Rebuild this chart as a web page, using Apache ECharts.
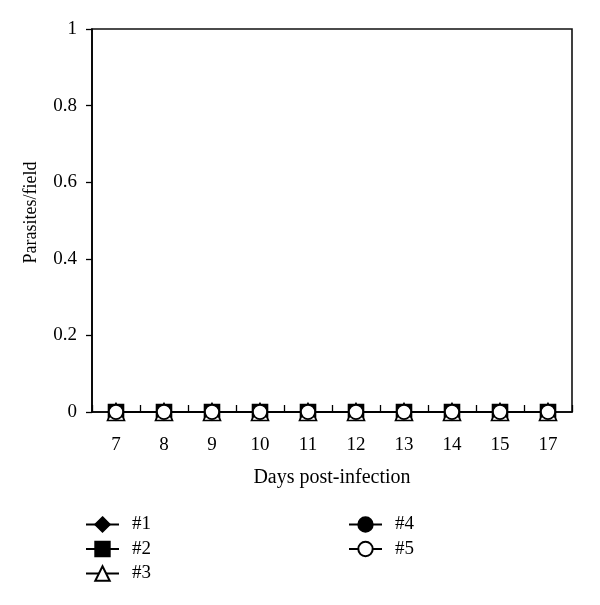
<!DOCTYPE html>
<html>
<head>
<meta charset="utf-8">
<script src="https://cdn.jsdelivr.net/npm/echarts@6/dist/echarts.min.js"></script>
<style>html,body{margin:0;padding:0;background:#fff}#c{width:600px;height:605px}</style>
</head>
<body>
<div id="c"></div>
<script>
var days = ['7', '8', '9', '10', '11', '12', '13', '14', '15', '17'];
var s1 = [0, 0, 0, 0, 0, 0, 0, 0, 0, 0];
var s2 = [0, 0, 0, 0, 0, 0, 0, 0, 0, 0];
var s3 = [0, 0, 0, 0, 0, 0, 0, 0, 0, 0];
var s4 = [0, 0, 0, 0, 0, 0, 0, 0, 0, 0];
var s5 = [0, 0, 0, 0, 0, 0, 0, 0, 0, 0];
var names = ['#1', '#2', '#3', '#4', '#5'];
var yTicks = [0, 0.2, 0.4, 0.6, 0.8, 1];

var FONT = 'Liberation Serif';
var chart = echarts.init(document.getElementById('c'), null, {renderer: 'canvas'});

function mk(name, data, symbol, fill, size) {
  return {
    name: name, type: 'line', data: data, symbol: symbol, symbolSize: size,
    clip: false,
    lineStyle: {color: '#000', width: 1.6},
    itemStyle: {color: fill, borderColor: '#000', borderWidth: 1.6},
    emphasis: {disabled: true}, animation: false
  };
}

var legendText = {fontFamily: FONT, fontSize: 19, color: '#000', lineHeight: 19, padding: [0, 0, 0, 8]};

var option = {
  animation: false,
  grid: {left: 92, right: 28, top: 29, bottom: 193, show: true, borderColor: '#111', borderWidth: 1.6, backgroundColor: 'transparent'},
  xAxis: {
    type: 'category', data: days, boundaryGap: true,
    name: 'Days post-infection', nameLocation: 'middle', nameGap: 56,
    nameTextStyle: {fontFamily: FONT, fontSize: 20, color: '#000'},
    axisLine: {lineStyle: {color: '#000', width: 1.6}},
    axisTick: {show: true, inside: true, length: 7, lineStyle: {color: '#000', width: 1.3}},
    axisLabel: {fontFamily: FONT, fontSize: 19, color: '#000', margin: 24},
    splitLine: {show: false}
  },
  yAxis: {
    type: 'value', min: yTicks[0], max: yTicks[yTicks.length - 1], interval: 0.2,
    name: 'Parasites/field', nameLocation: 'middle', nameGap: 52, nameRotate: 90,
    nameTextStyle: {fontFamily: FONT, fontSize: 18, color: '#000', padding: [0, 0, 0, 16]},
    axisLine: {show: true, lineStyle: {color: '#000', width: 1.6}},
    axisTick: {show: true, inside: false, length: 6, lineStyle: {color: '#000', width: 1.3}},
    axisLabel: {fontFamily: FONT, fontSize: 19, color: '#000', margin: 15},
    splitLine: {show: false}
  },
  legend: [
    {data: names.slice(0, 3), orient: 'vertical', left: 85, top: 515, padding: 0, itemWidth: 33, itemHeight: 18, itemGap: 5.5,
     textStyle: legendText, selectedMode: false},
    {data: names.slice(3), orient: 'vertical', left: 348, top: 515, padding: 0, itemWidth: 33, itemHeight: 18, itemGap: 5.5,
     textStyle: legendText, selectedMode: false}
  ],
  series: [
    mk(names[0], s1, 'diamond', '#000', 16),
    mk(names[1], s2, 'rect', '#000', 15),
    mk(names[2], s3, 'triangle', '#fff', 17),
    mk(names[3], s4, 'circle', '#000', 14),
    mk(names[4], s5, 'circle', '#fff', 14)
  ]
};
chart.setOption(option);
</script>
</body>
</html>
